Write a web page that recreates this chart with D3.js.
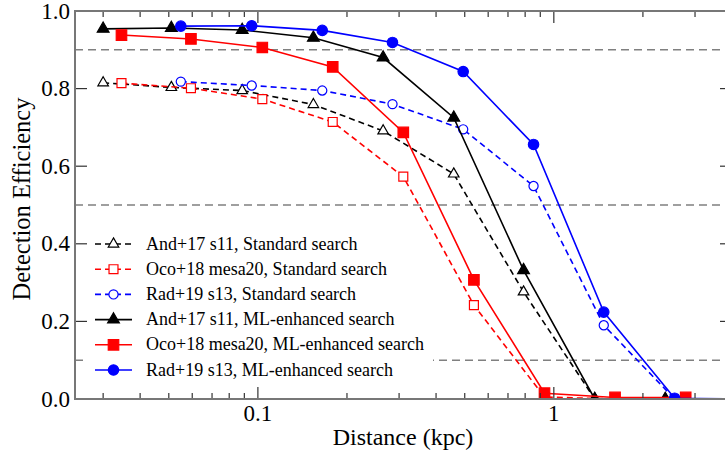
<!DOCTYPE html>
<html>
<head>
<meta charset="utf-8">
<script src="https://cdn.jsdelivr.net/npm/d3@7"></script>
<style>
  html, body { margin: 0; padding: 0; background: #fff; }
  svg { display: block; }
  svg text { font-family: 'Liberation Serif', 'Times New Roman', Times, 'DejaVu Serif', serif; }
</style>
</head>
<body>
<svg id="chart" width="725" height="457"></svg>
<script>
// Distances (kpc) at which each progenitor model was injected
const distAnd = [0.030, 0.051, 0.0885, 0.154, 0.265, 0.459, 0.79, 1.375, 2.38];
const distOco = [0.0346, 0.0594, 0.1035, 0.179, 0.31, 0.537, 0.93, 1.61, 2.79];
const distRad = [0.0549, 0.0953, 0.165, 0.285, 0.494, 0.854, 1.475, 2.56, 4.42];

// Detection efficiency, standard search
const andStd = [0.815, 0.803, 0.795, 0.759, 0.691, 0.580, 0.276, 0.0, 0.0];
const ocoStd = [0.814, 0.801, 0.773, 0.714, 0.573, 0.242, 0.005, 0.0, 0.0];
const radStd = [0.818, 0.808, 0.795, 0.760, 0.695, 0.549, 0.190, 0.0, 0.0];

// Detection efficiency, ML-enhanced search
const andML = [0.954, 0.956, 0.951, 0.931, 0.880, 0.725, 0.332, 0.0, 0.0];
const ocoML = [0.938, 0.928, 0.906, 0.856, 0.687, 0.307, 0.015, 0.004, 0.004];
const radML = [0.961, 0.962, 0.950, 0.919, 0.844, 0.656, 0.224, 0.002, 0.0];

const refLevels = [0.9, 0.5, 0.1];
const yTicks = [0.0, 0.2, 0.4, 0.6, 0.8, 1.0];
const xMajor = [0.1, 1];
const xMinor = [0.03, 0.04, 0.05, 0.06, 0.07, 0.08, 0.09,
                0.2, 0.3, 0.4, 0.5, 0.6, 0.7, 0.8, 0.9, 2, 3, 4];

const series = [
  { label: "And+17 s11, Standard search",      x: distAnd, y: andStd, color: "#000000", dashed: true,  shape: "triangle", filled: false },
  { label: "Oco+18 mesa20, Standard search",   x: distOco, y: ocoStd, color: "#ff0000", dashed: true,  shape: "square",   filled: false },
  { label: "Rad+19 s13, Standard search",      x: distRad, y: radStd, color: "#0000ff", dashed: true,  shape: "circle",   filled: false },
  { label: "And+17 s11, ML-enhanced search",   x: distAnd, y: andML,  color: "#000000", dashed: false, shape: "triangle", filled: true },
  { label: "Oco+18 mesa20, ML-enhanced search",x: distOco, y: ocoML,  color: "#ff0000", dashed: false, shape: "square",   filled: true },
  { label: "Rad+19 s13, ML-enhanced search",   x: distRad, y: radML,  color: "#0000ff", dashed: false, shape: "circle",   filled: true }
];

const L = 75, R = 732, T = 11, B = 399;
const svg = d3.select("#chart");

const x = d3.scaleLog().domain([0.0241, 4.0]).range([L, R]);
const y = d3.scaleLinear().domain([0, 1]).range([B, T]);

svg.append("defs").append("clipPath").attr("id", "plotClip")
  .append("rect").attr("x", L).attr("y", T).attr("width", R - L).attr("height", B - T);

// Reference efficiency levels
svg.append("g").selectAll("line").data(refLevels).join("line")
  .attr("x1", L).attr("x2", R)
  .attr("y1", d => y(d)).attr("y2", d => y(d))
  .attr("stroke", "#808080").attr("stroke-width", 1.6)
  .attr("stroke-dasharray", "8,5");

function symbolFor(shape, filled) {
  if (shape === "triangle") return d3.symbol(d3.symbolTriangle, filled ? 60 : 48);
  if (shape === "square") return d3.symbol(d3.symbolSquare, filled ? 110 : 80);
  return d3.symbol(d3.symbolCircle, filled ? 85 : 66);
}

const plot = svg.append("g").attr("clip-path", "url(#plotClip)");
const line = d3.line().x(d => x(d[0])).y(d => y(d[1]));

series.forEach(s => {
  const pts = s.x.map((d, i) => [d, s.y[i]]);
  const g = plot.append("g");
  g.append("path").datum(pts)
    .attr("d", line)
    .attr("fill", "none")
    .attr("stroke", s.color)
    .attr("stroke-width", 1.6)
    .attr("stroke-dasharray", s.dashed ? "6,4" : null);
  const sym = symbolFor(s.shape, s.filled);
  g.selectAll("path.m").data(pts).join("path")
    .attr("class", "m")
    .attr("d", sym())
    .attr("transform", d => `translate(${x(d[0])},${y(d[1])})`)
    .attr("fill", s.filled ? s.color : "#ffffff")
    .attr("stroke", s.color)
    .attr("stroke-width", 1.2);
});

// Legend with white background
const lg = svg.append("g");
lg.append("rect").attr("x", 87).attr("y", 230).attr("width", 346).attr("height", 154).attr("fill", "#ffffff");
series.forEach((s, i) => {
  const cy = 244 + i * 25.2;
  lg.append("line").attr("x1", 95).attr("x2", 132).attr("y1", cy).attr("y2", cy)
    .attr("stroke", s.color).attr("stroke-width", 1.6)
    .attr("stroke-dasharray", s.dashed ? "6,4" : null);
  lg.append("path").attr("d", symbolFor(s.shape, s.filled)())
    .attr("transform", `translate(113.5,${cy})`)
    .attr("fill", s.filled ? s.color : "#ffffff")
    .attr("stroke", s.color).attr("stroke-width", 1.2);
  lg.append("text").attr("x", 146).attr("y", cy + 5.5)
    .attr("font-size", 18).attr("fill", "#000").text(s.label);
});

// Axes: inward ticks on all four sides
const tickColor = "#333";
const ax = svg.append("g");
[[B, -1], [T, 1]].forEach(([yy, dir]) => {
  ax.append("g").selectAll("line").data(xMajor).join("line")
    .attr("x1", d => x(d)).attr("x2", d => x(d))
    .attr("y1", yy).attr("y2", yy + dir * 12)
    .attr("stroke", tickColor).attr("stroke-width", 1.2);
  ax.append("g").selectAll("line").data(xMinor).join("line")
    .attr("x1", d => x(d)).attr("x2", d => x(d))
    .attr("y1", yy).attr("y2", yy + dir * 6)
    .attr("stroke", tickColor).attr("stroke-width", 1.2);
});
[[L, 1], [R, -1]].forEach(([xx, dir]) => {
  ax.append("g").selectAll("line").data(yTicks).join("line")
    .attr("x1", xx).attr("x2", xx + dir * 12)
    .attr("y1", d => y(d)).attr("y2", d => y(d))
    .attr("stroke", tickColor).attr("stroke-width", 1.2);
});
// Frame
ax.append("rect").attr("x", L).attr("y", T).attr("width", R - L).attr("height", B - T)
  .attr("fill", "none").attr("stroke", "#777").attr("stroke-width", 2);

// Tick labels
ax.append("g").selectAll("text").data(yTicks).join("text")
  .attr("x", 70).attr("y", d => y(d) + 7.5)
  .attr("text-anchor", "end").attr("font-size", 23).attr("fill", "#000")
  .text(d => d3.format(".1f")(d));
ax.append("g").selectAll("text").data(xMajor).join("text")
  .attr("x", d => x(d)).attr("y", 421)
  .attr("text-anchor", "middle").attr("font-size", 23).attr("fill", "#000")
  .text(d => d3.format("~g")(d));

// Axis titles
svg.append("text").attr("x", 403).attr("y", 445)
  .attr("text-anchor", "middle").attr("font-size", 24).attr("fill", "#000")
  .text("Distance (kpc)");
svg.append("text")
  .attr("transform", "translate(29.5,199) rotate(-90)")
  .attr("text-anchor", "middle").attr("font-size", 24.5).attr("fill", "#000")
  .text("Detection Efficiency");
</script>
</body>
</html>
